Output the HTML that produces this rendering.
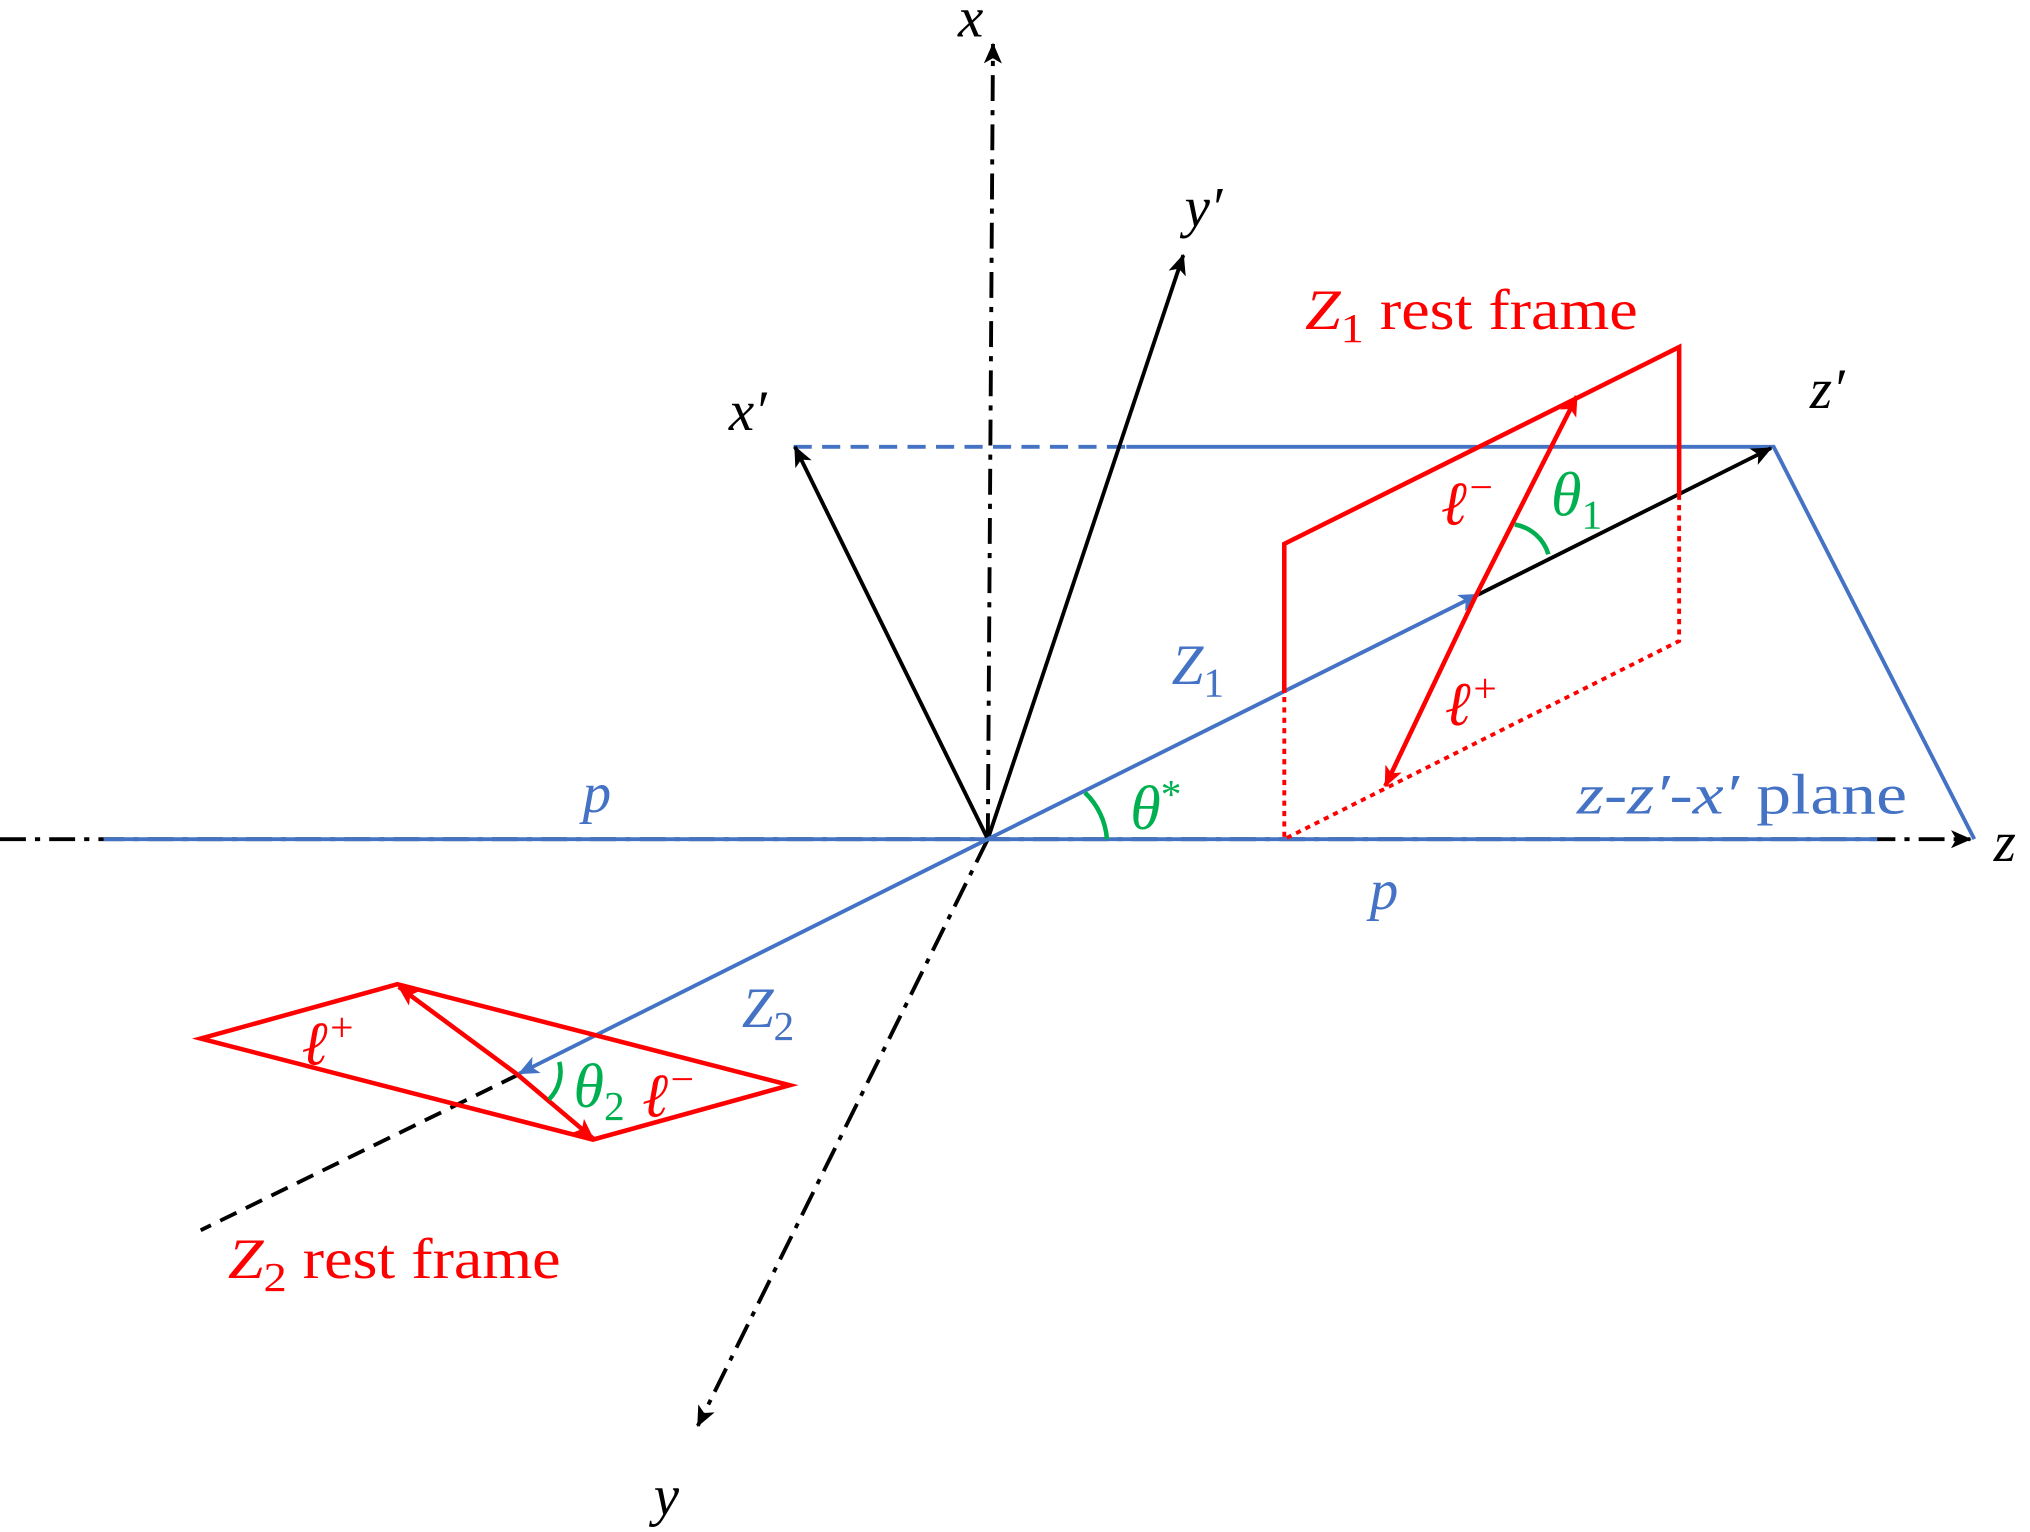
<!DOCTYPE html>
<html><head><meta charset="utf-8"><style>
html,body{margin:0;padding:0;background:#fff;}
svg{display:block;}
text{font-family:"Liberation Serif","DejaVu Serif",serif;}
.i{font-style:italic;}
</style></head><body>
<svg width="2030" height="1532" viewBox="0 0 1568 1183" preserveAspectRatio="none" xmlns="http://www.w3.org/2000/svg">
<defs>
<marker id="ak" markerWidth="16" markerHeight="14" refX="15" refY="7" orient="auto" markerUnits="userSpaceOnUse"><path d="M0,0 L16,7 L0,14 L4,7 z" fill="#000"/></marker>
<marker id="ab" markerWidth="16" markerHeight="14" refX="15" refY="7" orient="auto" markerUnits="userSpaceOnUse"><path d="M0,0 L16,7 L0,14 L4,7 z" fill="#4472C4"/></marker>
<marker id="ar" markerWidth="16" markerHeight="14" refX="15" refY="7" orient="auto" markerUnits="userSpaceOnUse"><path d="M0,0 L16,7 L0,14 L4,7 z" fill="#f00"/></marker>
</defs>
<g stroke="#000" stroke-width="3" fill="none" stroke-dasharray="20,7,4,7">
<line x1="0" y1="648" x2="1522" y2="648" marker-end="url(#ak)"/>
<line x1="763" y1="648" x2="767" y2="34" marker-end="url(#ak)"/>
<line x1="763" y1="648" x2="539" y2="1101" marker-end="url(#ak)"/>
</g>
<line x1="80" y1="648" x2="1450" y2="648" stroke="#4472C4" stroke-width="3"/>
<line x1="613" y1="345" x2="870" y2="345" stroke="#4472C4" stroke-width="3" stroke-dasharray="14,8"/>
<polyline points="870,345 1370,345 1525,648" stroke="#4472C4" stroke-width="3" fill="none"/>
<g stroke="#000" stroke-width="3" fill="none">
<line x1="763" y1="648" x2="914" y2="197" marker-end="url(#ak)"/>
<line x1="763" y1="648" x2="614" y2="345" marker-end="url(#ak)"/>
<line x1="1140" y1="460" x2="1368" y2="346" marker-end="url(#ak)"/>
<line x1="400" y1="830" x2="155" y2="950" stroke-dasharray="14,8"/>
</g>
<line x1="763" y1="648" x2="1142" y2="459" stroke="#4472C4" stroke-width="3" marker-end="url(#ab)"/>
<line x1="763" y1="648" x2="401" y2="829" stroke="#4472C4" stroke-width="3" marker-end="url(#ab)"/>
<polyline points="992,535 992,420 1297,268 1297,382" stroke="#f00" stroke-width="3.5" fill="none"/>
<polyline points="1297,382 1297,495 992,648 992,535" stroke="#f00" stroke-width="3" fill="none" stroke-dasharray="4,4"/>
<line x1="1140" y1="460" x2="1218" y2="306" stroke="#f00" stroke-width="3.5" marker-end="url(#ar)"/>
<line x1="1140" y1="460" x2="1070" y2="607" stroke="#f00" stroke-width="3.5" marker-end="url(#ar)"/>
<polygon points="155,802 307,760 610,838 458,880" stroke="#f00" stroke-width="3.5" fill="none"/>
<line x1="400" y1="830" x2="308" y2="762" stroke="#f00" stroke-width="3.5" marker-end="url(#ar)"/>
<line x1="400" y1="830" x2="458" y2="879" stroke="#f00" stroke-width="3.5" marker-end="url(#ar)"/>
<g stroke="#00B050" stroke-width="3.5" fill="none">
<path d="M838,612 A55,55 0 0 1 855,648"/>
<path d="M1170,405 A33,33 0 0 1 1196,428"/>
<path d="M432,820 A30,30 0 0 1 424,849"/>
</g>
<g font-size="44">
<text x="740" y="28" class="i">x</text>
<text x="1540" y="665" class="i">z</text>
<text x="505" y="1170" class="i">y</text>
<text x="915" y="175" class="i">y′</text>
<text x="563" y="332" class="i">x′</text>
<text x="1398" y="315" class="i">z′</text>
<text x="450" y="627" class="i" fill="#4472C4">p</text>
<text x="1058" y="702" class="i" fill="#4472C4">p</text>
<text x="905" y="528" fill="#4472C4"><tspan class="i">Z</tspan><tspan font-size="32" dy="10">1</tspan></text>
<text x="573" y="793" fill="#4472C4"><tspan class="i">Z</tspan><tspan font-size="32" dy="10">2</tspan></text>
<text x="1218" y="628" fill="#4472C4" textLength="255" lengthAdjust="spacingAndGlyphs"><tspan class="i">z</tspan>-<tspan class="i">z′</tspan>-<tspan class="i">x′</tspan> plane</text>
<text x="1008" y="254" fill="#f00" textLength="257" lengthAdjust="spacingAndGlyphs"><tspan class="i">Z</tspan><tspan font-size="32" dy="10">1</tspan><tspan dy="-10"> rest frame</tspan></text>
<text x="176" y="987" fill="#f00" textLength="257" lengthAdjust="spacingAndGlyphs"><tspan class="i">Z</tspan><tspan font-size="32" dy="10">2</tspan><tspan dy="-10"> rest frame</tspan></text>
</g>
<g font-size="48">
<text x="1113" y="405" class="i" fill="#f00">ℓ<tspan font-size="32" dy="-18">−</tspan></text>
<text x="1116" y="560" class="i" fill="#f00">ℓ<tspan font-size="32" dy="-18">+</tspan></text>
<text x="233" y="822" class="i" fill="#f00">ℓ<tspan font-size="32" dy="-18">+</tspan></text>
<text x="496" y="862" class="i" fill="#f00">ℓ<tspan font-size="32" dy="-18">−</tspan></text>
<text x="1198" y="398" fill="#00B050"><tspan class="i">θ</tspan><tspan font-size="32" dy="10">1</tspan></text>
<text x="443" y="855" fill="#00B050"><tspan class="i">θ</tspan><tspan font-size="32" dy="10">2</tspan></text>
<text x="873" y="640" fill="#00B050"><tspan class="i">θ</tspan><tspan font-size="32" dy="-16">*</tspan></text>
</g>
</svg>
</body></html>
